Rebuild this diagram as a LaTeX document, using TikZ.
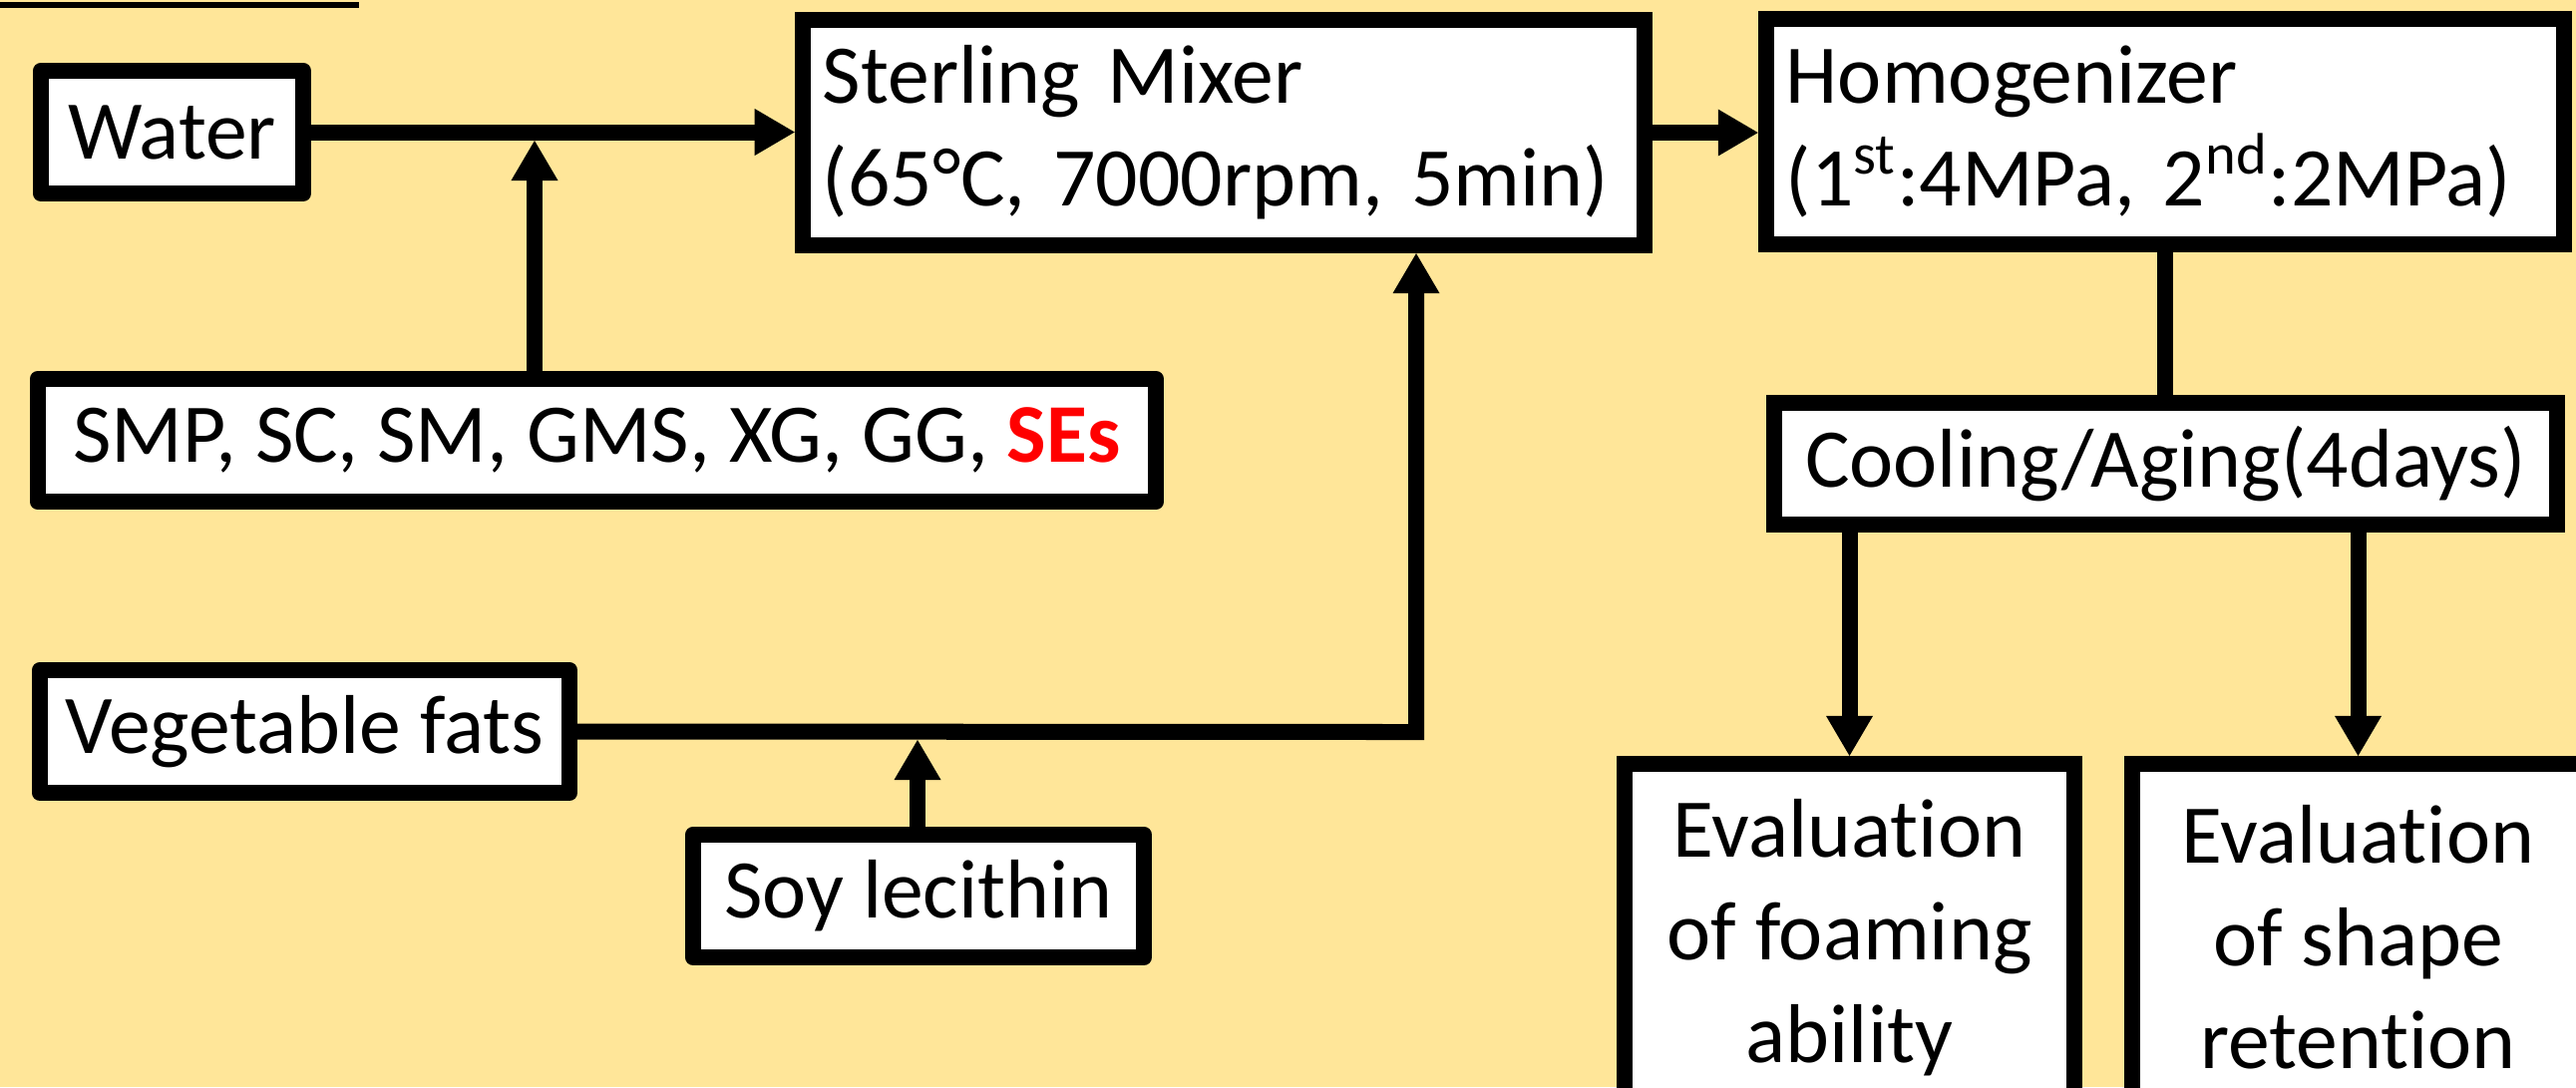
\documentclass[tikz,border=0pt]{standalone}
\usepackage{fontspec}
\setmainfont{Carlito}[Ligatures=NoCommon]
\usepackage{xcolor}
\usepackage{tikz}
\usetikzlibrary{arrows.meta}
\definecolor{bgYellow}{HTML}{FFE699}
\definecolor{seRed}{HTML}{FF0000}

\begin{document}
\begin{tikzpicture}[x=0.01cm, y=-0.01cm,
    font=\fontsize{23.8}{29.3}\selectfont,
    box/.style={draw, fill=white, line width=0.16cm, inner xsep=0.1cm, minimum height=1.23cm},
    inbox/.style={box, line join=round},
    stagebox/.style={box, align=left, inner xsep=0.2cm, minimum height=2.26cm},
    evalbox/.style={box, align=center, minimum height=3.48cm},
    flow/.style={line width=0.16cm},
    arr/.style={flow, -{Triangle[length=0.4cm, width=0.47cm, line width=0pt]}}]
    \useasboundingbox (0,0) rectangle (2583,1090);
    \fill[bgYellow] (0,0) rectangle (2583,1090);
    \clip (0,0) rectangle (2583,1090);
    \draw[line width=0.06cm] (0,4.5) -- (360,4.5);

    \node[inbox, minimum width=2.63cm] (water) at (172.5,132.5) {Water};
    \node[inbox, minimum width=11.21cm] (smp) at (598.5,441.5) {SMP, SC, SM, GMS, XG, GG, \textbf{\color{seRed}SEs}};
    \node[inbox, minimum width=5.31cm] (veg) at (305.5,733.5) {Vegetable fats};
    \node[inbox, minimum width=4.52cm] (soy) at (921,898.5) {Soy lecithin};
    \node[stagebox, text width=8.04cm] (mixer) at (1227,133) {Sterling Mixer\\(65°C, 7000rpm, 5min)};
    \node[stagebox, text width=7.6cm] (homog) at (2171,132) {Homogenizer\\(1\textsuperscript{st}:4MPa, 2\textsuperscript{nd}:2MPa)};
    \node[box, minimum width=7.85cm, minimum height=1.22cm] (cool) at (2171.5,465) {Cooling/Aging(4days)};
    \node[evalbox, minimum width=4.51cm] (foam) at (1854.5,940) {Evaluation\\of foaming\\ability};
    \node[evalbox, minimum width=4.53cm] (shape) at (2364.5,940) {Evaluation\\of shape\\retention};

    \coordinate (wj) at (536,141);
    \coordinate (vc) at (1420,734);
    \coordinate (sj) at (920,742);
    \draw[arr] (water.east) -- (water.east -| mixer.west);
    \draw[arr] (wj |- smp.north) -- (wj);
    \draw[arr] (veg.east) -- (vc) -- (vc |- mixer.south);
    \draw[arr] (sj |- soy.north) -- (sj);
    \draw[arr] (mixer.east) -- (mixer.east -| homog.west);
    \draw[flow] (homog.south) -- (homog.south |- cool.north);
    \draw[arr] (foam.north |- cool.south) -- (foam.north);
    \draw[arr] (shape.north |- cool.south) -- (shape.north);
\end{tikzpicture}
\end{document}
